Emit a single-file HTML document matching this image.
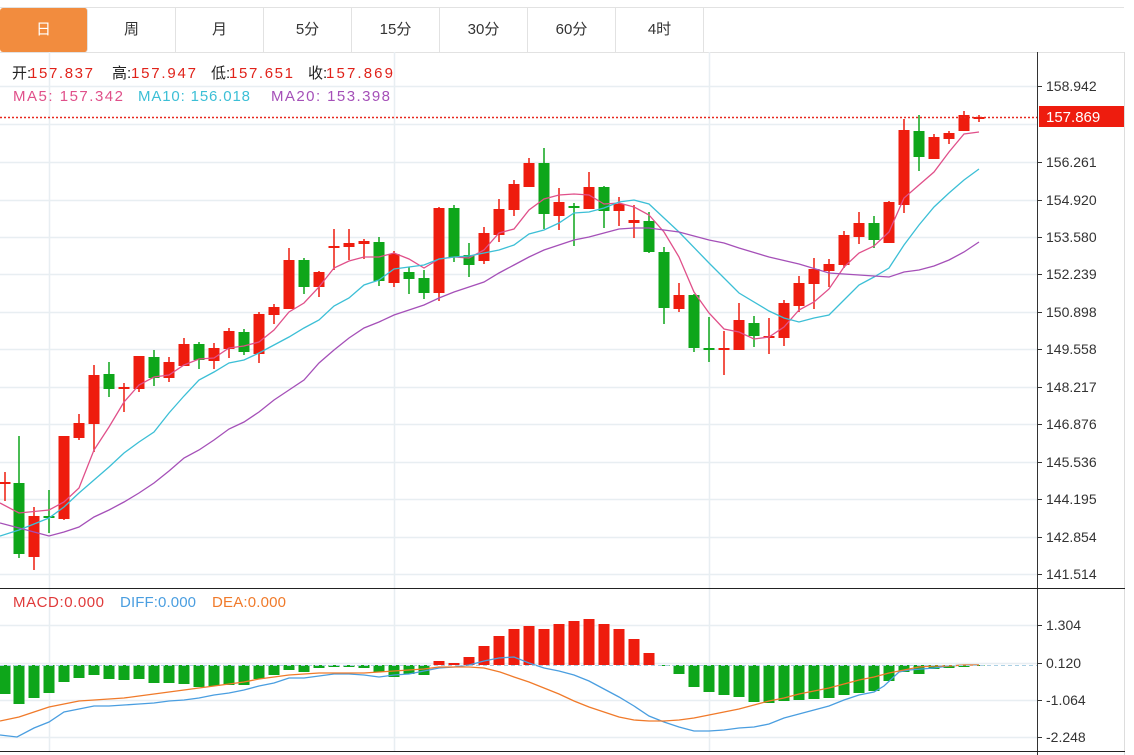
<!DOCTYPE html>
<html><head><meta charset="utf-8"><style>
html,body{margin:0;padding:0;background:#fff;}
body{width:1134px;height:755px;overflow:hidden;position:relative;font-family:"Liberation Sans","Noto Sans CJK SC",sans-serif;}
.tabs{position:absolute;left:0;top:7px;height:44px;width:1124px;border-top:1px solid #e2e2e2;border-bottom:1px solid #e2e2e2;}
.tab{position:absolute;top:0;height:44px;line-height:44px;text-align:center;font-size:15px;color:#333;border-right:1px solid #e2e2e2;box-sizing:border-box;}
.tab.on{background:#f28c3e;color:#fff;border-radius:3px;}
</style></head><body>
<div class="tabs">
<div class="tab on" style="left:0;width:88px">日</div>
<div class="tab" style="left:88px;width:88px">周</div>
<div class="tab" style="left:176px;width:88px">月</div>
<div class="tab" style="left:264px;width:88px">5分</div>
<div class="tab" style="left:352px;width:88px">15分</div>
<div class="tab" style="left:440px;width:88px">30分</div>
<div class="tab" style="left:528px;width:88px">60分</div>
<div class="tab" style="left:616px;width:88px">4时</div>
</div>
<svg id="s" width="1134" height="755" style="position:absolute;left:0;top:0" xmlns="http://www.w3.org/2000/svg">
<g id="grid" stroke="#e8eef2" stroke-width="1.5" fill="none"></g>
<g id="c"></g>
<g id="lines" fill="none" stroke-width="1.3"></g>
<line x1="0" y1="117.5" x2="1037" y2="117.5" stroke="#e8281e" stroke-width="1.5" stroke-dasharray="2,2"/>
<line x1="0" y1="665.5" x2="1037" y2="665.5" stroke="#a9cfe3" stroke-width="1" stroke-dasharray="4,3"/>
<line x1="1037.5" y1="52" x2="1037.5" y2="755" stroke="#333"/>
<line x1="1124.5" y1="52" x2="1124.5" y2="755" stroke="#ddd"/>
<line x1="0" y1="588.5" x2="1125" y2="588.5" stroke="#222"/>
<line x1="0" y1="751.5" x2="1125" y2="751.5" stroke="#222"/>
<g id="ticks" stroke="#333"></g>
<rect x="1039" y="106" width="85" height="21" fill="#ee1c0e"/>
<g font-family="Liberation Sans, sans-serif" font-size="14" fill="#333">
<text x="1046" y="91">158.942</text>
<text x="1046" y="167">156.261</text>
<text x="1046" y="205">154.920</text>
<text x="1046" y="242">153.580</text>
<text x="1046" y="279">152.239</text>
<text x="1046" y="317">150.898</text>
<text x="1046" y="354">149.558</text>
<text x="1046" y="392">148.217</text>
<text x="1046" y="429">146.876</text>
<text x="1046" y="467">145.536</text>
<text x="1046" y="504">144.195</text>
<text x="1046" y="542">142.854</text>
<text x="1046" y="579">141.514</text>
<text x="1046" y="630">1.304</text>
<text x="1046" y="668">0.120</text>
<text x="1046" y="705">-1.064</text>
<text x="1046" y="742">-2.248</text>
<text x="1046" y="122" fill="#fff" font-size="15">157.869</text>
</g>
<g font-family="Liberation Sans, Noto Sans CJK SC, sans-serif" font-size="15" lengthAdjust="spacingAndGlyphs">
<text x="12" y="78" fill="#222">开:</text><text x="29" y="78" fill="#e0221a" textLength="64">157.837</text>
<text x="112" y="78" fill="#222">高:</text><text x="131" y="78" fill="#e0221a" textLength="65">157.947</text>
<text x="211" y="78" fill="#222">低:</text><text x="229" y="78" fill="#e0221a" textLength="64">157.651</text>
<text x="308" y="78" fill="#222">收:</text><text x="326" y="78" fill="#e0221a" textLength="67">157.869</text>
<text x="13" y="101" fill="#e0508a" textLength="110">MA5: 157.342</text>
<text x="138" y="101" fill="#3cbfd6" textLength="112">MA10: 156.018</text>
<text x="271" y="101" fill="#a550b8" textLength="119">MA20: 153.398</text>
<text x="13" y="607" fill="#e03a3a" textLength="91">MACD:0.000</text>
<text x="120" y="607" fill="#4a9ee0" textLength="76">DIFF:0.000</text>
<text x="212" y="607" fill="#f07a2a" textLength="74">DEA:0.000</text>
</g>
</svg>
<script>
var NS="http://www.w3.org/2000/svg";
function el(p,t,a){var e=document.createElementNS(NS,t);for(var k in a)e.setAttribute(k,a[k]);p.appendChild(e);return e;}
var g=document.getElementById('grid');
[86,124,162,200,237,274,312,349,387,424,462,499,537,574,625,663,700,737].forEach(function(y){el(g,'line',{x1:0,y1:y+.5,x2:1037,y2:y+.5});});
[49,394,709].forEach(function(x){el(g,'line',{x1:x+.5,y1:52,x2:x+.5,y2:751});});
var tk=document.getElementById('ticks');
[86,162,200,237,274,312,349,387,424,462,499,537,574,625,663,700,737].forEach(function(y){el(tk,'line',{x1:1037,y1:y+.5,x2:1042,y2:y+.5});});
var R="#ee1c0e",G="#0ea61a";
var C=[[5,482,484,472,501,R],[19,483,554,436,558,G],[34,516,557,507,570,R],[49,516,518,490,533,G],[64,436,519,436,520,R],[79,423,438,414,440,R],[94,375,424,365,452,R],[109,374,389,362,397,G],[124,387,389,383,412,R],[139,356,389,356,392,R],[154,357,378,350,386,G],[169,362,378,357,382,R],[184,344,366,338,366,R],[199,344,360,342,369,G],[214,348,361,343,369,R],[229,331,349,328,358,R],[244,332,352,329,355,G],[259,314,354,312,363,R],[274,307,315,304,324,R],[289,260,309,248,309,R],[304,260,287,258,294,G],[319,272,287,271,297,R],[334,246,248,229,270,R],[349,243,247,229,260,R],[364,241,244,239,259,R],[379,242,281,237,286,G],[394,254,283,251,287,R],[409,272,279,267,294,G],[424,278,293,270,299,G],[439,208,293,207,301,R],[454,208,257,205,262,G],[469,255,265,243,277,G],[484,233,261,227,264,R],[499,209,235,199,242,R],[514,184,210,180,216,R],[529,163,187,158,187,R],[544,163,214,148,229,G],[559,202,216,188,230,R],[574,206,208,203,246,G],[589,187,209,172,209,R],[604,187,211,186,228,G],[619,204,211,197,226,R],[634,220,223,205,238,R],[649,221,252,212,253,G],[664,252,308,247,324,G],[679,295,309,283,312,R],[694,295,348,294,352,G],[709,348,350,317,362,G],[724,348,350,331,375,R],[739,320,350,303,350,R],[754,323,336,316,347,G],[769,336,338,318,354,R],[784,303,338,300,346,R],[799,283,306,276,312,R],[814,269,284,258,309,R],[829,264,271,259,287,R],[844,235,265,231,268,R],[859,223,237,212,244,R],[874,223,240,216,248,G],[889,202,243,201,243,R],[904,130,205,119,213,R],[919,131,157,115,171,G],[934,137,159,134,159,R],[949,133,139,131,144,R],[964,115,131,111,131,R],[979,117,119,115,122,R]];
var cg=document.getElementById('c');
C.forEach(function(d){
 el(cg,'line',{x1:d[0],y1:d[3],x2:d[0],y2:d[4],stroke:d[5],'stroke-width':1.5});
 var h=Math.max(d[2]-d[1],2);
 el(cg,'rect',{x:d[0]-5.5,y:d[1],width:11,height:h,fill:d[5]});
});
var H=[[5,694],[19,704],[34,698],[49,693],[64,682],[79,678],[94,675],[109,679],[124,680],[139,679],[154,683],[169,683],[184,684],[199,687],[214,686],[229,685],[244,685],[259,679],[274,675],[289,670],[304,672],[319,668],[334,667],[349,667],[364,668],[379,672],[394,677],[409,674],[424,675],[439,661],[454,663],[469,657],[484,646],[499,636],[514,629],[529,626],[544,629],[559,624],[574,621],[589,619],[604,624],[619,629],[634,639],[649,653],[664,666],[679,674],[694,687],[709,692],[724,695],[739,697],[754,702],[769,703],[784,701],[799,700],[814,699],[829,698],[844,695],[859,693],[874,691],[889,681],[904,672],[919,674],[934,669],[949,668],[964,667],[979,666]];
var Z=665;
H.forEach(function(d){var y=d[1],c=y<Z?R:G;el(cg,'rect',{x:d[0]-5.5,y:Math.min(y,Z),width:11,height:Math.max(Math.abs(y-Z),1),fill:c});});
var lg=document.getElementById('lines');
function pl(pts,c){el(lg,'polyline',{points:pts.map(function(p){return p.join(',')}).join(' '),stroke:c});}
pl([[0,503],[19,513],[49,510],[64,502],[79,488],[94,450],[109,427],[124,402],[139,385],[154,377],[169,375],[184,365],[199,359],[214,358],[229,348],[244,346],[259,342],[274,330],[289,312],[304,303],[319,287],[334,268],[349,261],[364,257],[379,257],[394,253],[409,259],[424,268],[439,259],[454,257],[469,258],[484,250],[499,233],[514,229],[529,210],[544,199],[559,195],[574,194],[589,195],[604,204],[619,203],[634,207],[649,215],[664,232],[679,257],[694,292],[709,313],[724,329],[739,332],[754,339],[769,337],[784,327],[799,310],[814,302],[829,289],[844,267],[859,253],[874,246],[889,232],[904,198],[919,185],[934,172],[949,152],[964,134],[979,132]],"#e0508a");
pl([[0,536],[19,530],[34,524],[49,518],[64,507],[79,493],[94,480],[109,467],[124,453],[139,442],[154,432],[169,413],[184,396],[199,380],[214,372],[229,363],[244,360],[259,353],[274,345],[289,337],[304,328],[319,320],[334,306],[349,298],[364,285],[379,280],[394,269],[409,267],[424,265],[439,259],[454,257],[469,256],[484,253],[499,250],[514,245],[529,234],[544,230],[559,223],[574,213],[589,212],[604,208],[619,202],[634,200],[649,204],[664,218],[679,232],[709,263],[739,293],[769,311],[784,318],[799,322],[814,318],[829,315],[844,300],[859,285],[874,277],[889,268],[904,245],[919,225],[934,207],[949,193],[964,180],[979,169]],"#3cbfd6");
pl([[0,523],[19,528],[49,536],[64,532],[79,527],[94,517],[109,510],[124,502],[139,493],[154,483],[169,471],[184,458],[199,450],[214,440],[229,429],[244,422],[259,412],[274,400],[289,390],[304,380],[319,363],[334,350],[349,338],[364,328],[379,322],[394,315],[409,310],[424,305],[439,298],[454,292],[469,287],[484,282],[499,273],[514,265],[529,257],[544,250],[559,245],[574,240],[589,237],[604,233],[619,229],[634,228],[649,228],[664,230],[679,232],[709,240],[724,243],[739,248],[769,257],[799,264],[829,273],[859,275],[889,277],[904,272],[919,270],[934,266],[949,260],[964,252],[979,242]],"#a550b8");
pl([[0,735],[17,737],[34,728],[49,722],[64,712],[79,709],[94,706],[109,706],[124,705],[139,704],[154,703],[169,701],[184,700],[199,698],[214,695],[229,693],[244,690],[259,686],[274,683],[289,678],[304,678],[319,676],[334,674],[349,674],[364,675],[379,677],[394,675],[409,674],[424,671],[439,668],[454,667],[469,665],[484,661],[499,658],[514,657],[529,663],[544,668],[559,671],[574,675],[589,681],[604,689],[619,697],[634,706],[649,716],[664,722],[679,727],[694,731],[709,731],[724,730],[739,728],[754,727],[769,724],[784,718],[799,714],[814,710],[829,706],[844,700],[859,695],[874,692],[884,686],[899,672],[909,670],[934,668],[949,666],[964,665],[979,665]],"#4a9ee0");
pl([[0,721],[19,717],[34,712],[49,707],[64,704],[79,701],[94,700],[109,699],[124,698],[139,696],[154,694],[169,692],[184,690],[199,688],[214,686],[229,684],[244,682],[259,679],[274,677],[289,675],[304,674],[319,673],[334,673],[349,673],[364,673],[379,672],[394,671],[409,670],[424,669],[439,667],[454,667],[469,667],[484,668],[500,672],[514,677],[529,682],[544,688],[559,694],[574,701],[589,707],[604,712],[619,717],[634,720],[649,721],[664,721],[679,720],[694,718],[709,715],[724,712],[739,709],[754,705],[769,701],[784,698],[799,694],[814,691],[829,688],[844,684],[859,680],[874,677],[889,673],[904,670],[919,667],[934,666],[949,666],[964,665],[979,665]],"#f07a2a");
</script>
</body></html>
